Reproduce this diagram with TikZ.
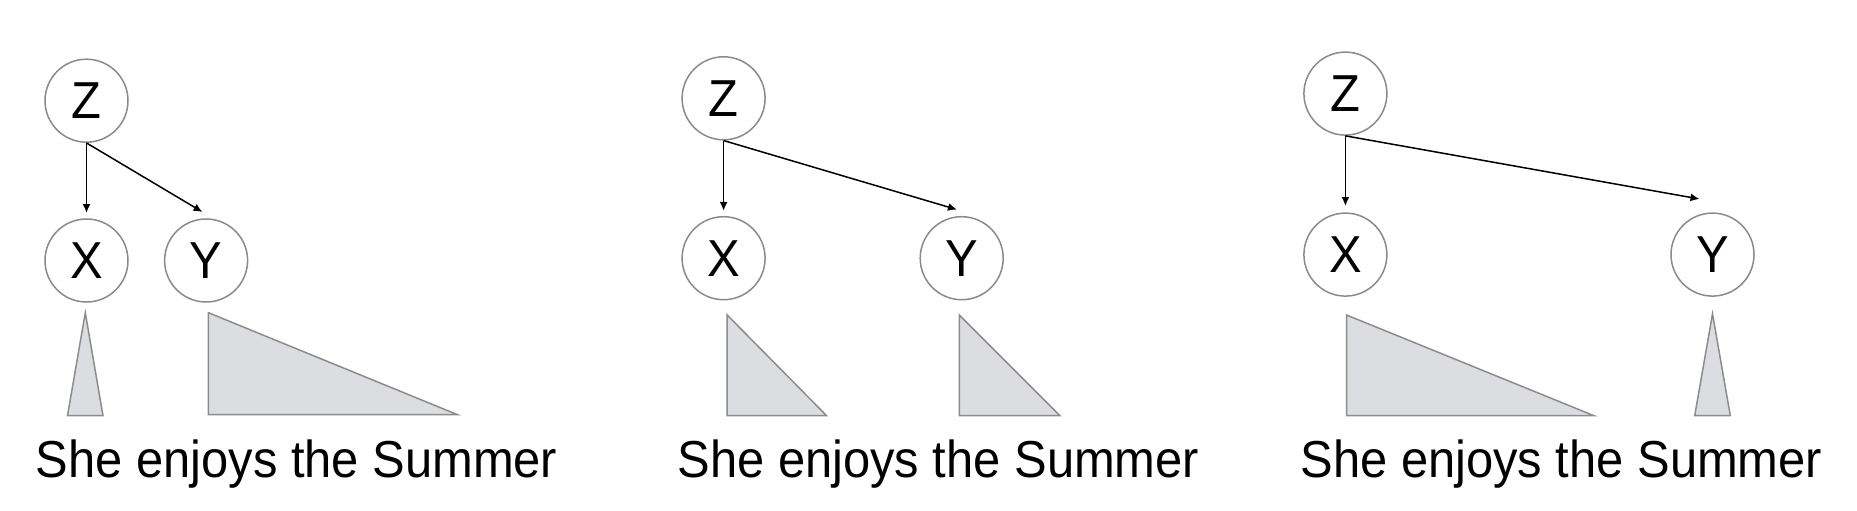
\documentclass[tikz,border=0pt]{standalone}
\usepackage{fontspec}
\setmainfont{Liberation Sans}
\newfontfamily\narrowsans[FakeStretch=0.94]{Liberation Sans}
\usetikzlibrary{arrows.meta}
\definecolor{circlegray}{HTML}{8A8A8A}
\definecolor{trifill}{HTML}{DCDDE0}
\definecolor{trigray}{HTML}{8C8C8C}
\begin{document}
\begin{tikzpicture}[x=1pt,y=-1pt,
  var/.style={circle,draw=circlegray,line width=1.5pt,minimum size=83pt,inner sep=0pt,font=\narrowsans\fontsize{52}{54}\selectfont},
  edge/.style={line width=1.5pt,-{Latex[length=9pt,width=8pt]}},
  subtree/.style={fill=trifill,draw=trigray,line width=1.5pt,line join=miter},
  sentence/.style={anchor=base west,inner sep=0pt,font=\narrowsans\fontsize{52}{56}\selectfont}]
\useasboundingbox (0,0) rectangle (1857,511);

% ---------- Diagram 1 ----------
\node[var] (z1) at (86.5,100.7) {Z};
\node[var] (x1) at (86.5,260.5) {X};
\node[var] (y1) at (206.1,260.5) {Y};
\coordinate (tx1) at (86.5,213);
\coordinate (ty1) at (202.5,212);
\draw[edge] (z1.south) -- (tx1);
\draw[edge] (z1.south) -- (ty1);
\draw[subtree] (85.3,312.7) -- (103,415.7) -- (67.5,415.7) -- cycle;
\draw[subtree] (208.4,312.7) -- (457.1,414.5) -- (208.4,414.5) -- cycle;
\node[sentence] (s1) at (35.5,477) {She enjoys the Summer};

% ---------- Diagram 2 ----------
\node[var] (z2) at (723.6,98.3) {Z};
\node[var] (x2) at (723.6,258.2) {X};
\node[var] (y2) at (961.7,258.2) {Y};
\coordinate (tx2) at (723.6,210.8);
\coordinate (ty2) at (956.9,209.6);
\draw[edge] (z2.south) -- (tx2);
\draw[edge] (z2.south) -- (ty2);
\draw[subtree] (727.2,315) -- (826.6,415.7) -- (727.2,415.7) -- cycle;
\draw[subtree] (959.3,315) -- (1060,415.7) -- (959.3,415.7) -- cycle;
\node[sentence] (s2) at (677.4,477) {She enjoys the Summer};

% ---------- Diagram 3 ----------
\node[var] (z3) at (1345.4,93.6) {Z};
\node[var] (x3) at (1345.4,254.6) {X};
\node[var] (y3) at (1712.5,254.6) {Y};
\coordinate (tx3) at (1345.4,206);
\coordinate (ty3) at (1699.5,199);
\draw[edge] (z3.south) -- (tx3);
\draw[edge] (z3.south) -- (ty3);
\draw[subtree] (1346.5,315) -- (1594,415.7) -- (1346.5,415.7) -- cycle;
\draw[subtree] (1712.5,313.8) -- (1730.3,415.7) -- (1694.7,415.7) -- cycle;
\node[sentence] (s3) at (1300.4,477) {She enjoys the Summer};
\end{tikzpicture}
\end{document}
